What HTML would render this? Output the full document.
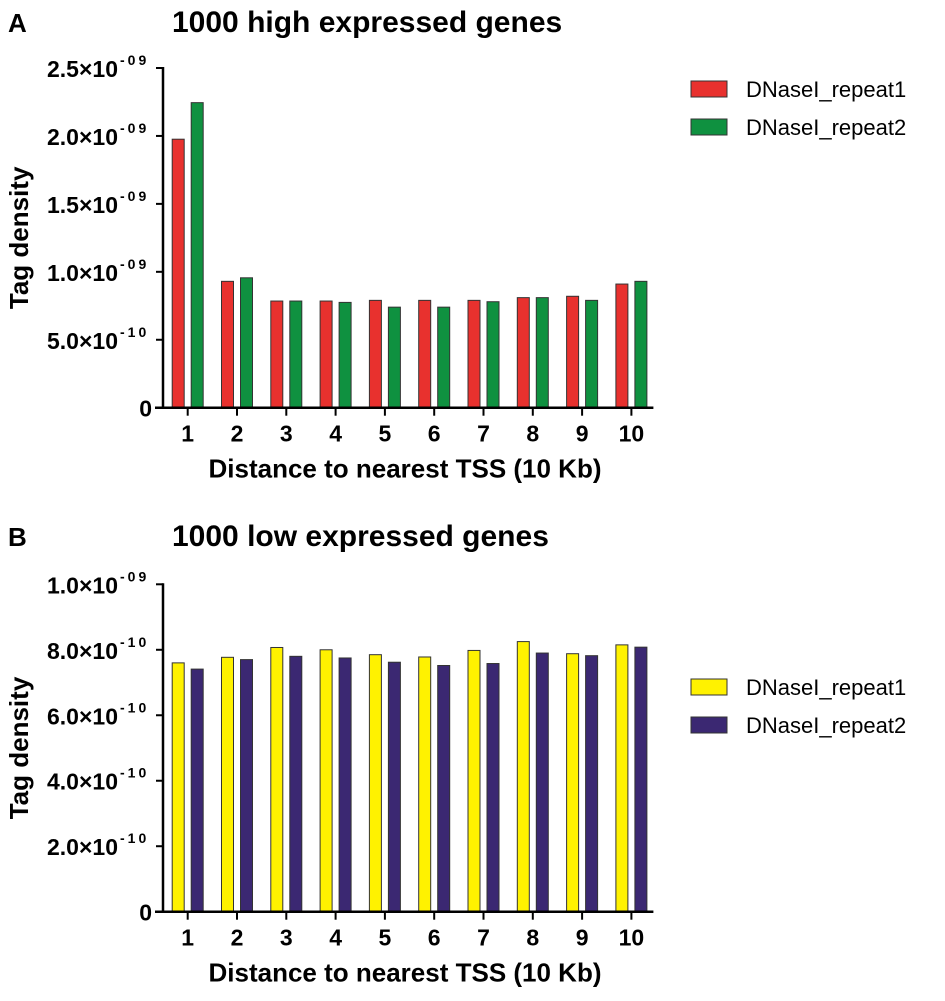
<!DOCTYPE html>
<html><head><meta charset="utf-8"><style>
body{margin:0;background:#fff;}
svg text{font-family:"Liberation Sans",Arial,sans-serif;}
</style></head><body>
<svg id="chart" width="945" height="996" xmlns="http://www.w3.org/2000/svg"></svg>
<script>
const categories = ["1","2","3","4","5","6","7","8","9","10"];
const highRep1 = [1.976,0.93,0.785,0.785,0.79,0.79,0.79,0.81,0.82,0.91];
const highRep2 = [2.245,0.956,0.785,0.775,0.74,0.74,0.78,0.81,0.79,0.93];
const lowRep1 = [0.76,0.777,0.807,0.80,0.785,0.778,0.798,0.825,0.788,0.815];
const lowRep2 = [0.741,0.77,0.78,0.775,0.762,0.752,0.758,0.79,0.782,0.808];
const highTicks = [0,0.5,1.0,1.5,2.0,2.5];
const highTickLabels = ["0","5.0×10|-10","1.0×10|-09","1.5×10|-09","2.0×10|-09","2.5×10|-09"];
const lowTicks = [0,0.2,0.4,0.6,0.8,1.0];
const lowTickLabels = ["0","2.0×10|-10","4.0×10|-10","6.0×10|-10","8.0×10|-10","1.0×10|-09"];

const svg = document.getElementById('chart');
const NS = "http://www.w3.org/2000/svg";
function mk(tag, attrs, parent){const e=document.createElementNS(NS,tag);for(const k in attrs)e.setAttribute(k,attrs[k]);(parent||svg).appendChild(e);return e;}

function panel(o){
  const g = mk('g',{});
  
  
  const x0=163, xFirst=187.7, step=49.3;
  const y = v => o.zero - (v/o.max)*(o.zero-o.top);
  const xc = i => xFirst + i*step;
  let t = mk('text',{x:8,y:o.titleY,'font-size':26,'font-weight':'bold'},g); t.textContent=o.letter;
   
  t = mk('text',{x:172,y:o.titleY,'font-size':30,'font-weight':'bold'},g); t.textContent=o.title;
   
  for(let i=0;i<categories.length;i++){
    const v1=o.s1[i], v2=o.s2[i];
    let b = mk('rect',{x:xc(i)-15.5,y:y(v1),width:12,height:o.zero-y(v1),fill:o.c1,stroke:'#333','stroke-width':1},g);
    
    
    b = mk('rect',{x:xc(i)+3.5,y:y(v2),width:12,height:o.zero-y(v2),fill:o.c2,stroke:'#333','stroke-width':1},g);
    
    
  }
  let a = mk('line',{x1:x0,y1:o.top-1,x2:x0,y2:o.zero,stroke:'#000','stroke-width':2.5},g);
   
  a = mk('line',{x1:x0-8,y1:o.zero,x2:xc(9)+22,y2:o.zero,stroke:'#000','stroke-width':2.5},g);
   
  o.ticks.forEach((tv,j)=>{
    const ty=y(tv);
    mk('line',{x1:x0-7,y1:ty,x2:x0,y2:ty,stroke:'#000','stroke-width':2},g);
    const parts=o.labels[j].split('|');
    const tx = mk('text',{x:x0-11,y:ty+9,'font-size':23,'font-weight':'bold','text-anchor':'end'},g);
    
    
    if(parts.length>1){
      tx.setAttribute('x',118);
      tx.textContent=parts[0];
      const sp=mk('text',{x:120,y:ty-3,'font-size':14,'font-weight':'bold','letter-spacing':3},g);
      sp.textContent=parts[1];
      
      
    } else tx.textContent=parts[0];
  });
  categories.forEach((c,i)=>{
    mk('line',{x1:xc(i),y1:o.zero,x2:xc(i),y2:o.zero+8,stroke:'#000','stroke-width':2},g);
    const tx=mk('text',{x:xc(i),y:o.zero+34,'font-size':23,'font-weight':'bold','text-anchor':'middle'},g);
    tx.textContent=c;
    
    
  });
  t = mk('text',{x:405,y:o.zero+70,'font-size':26,'font-weight':'bold','text-anchor':'middle'},g);
  t.textContent='Distance to nearest TSS (10 Kb)';
   
  const cy=(o.top+o.zero)/2;
  t = mk('text',{x:28,y:cy,'font-size':26,'font-weight':'bold','text-anchor':'middle',transform:`rotate(-90 28 ${cy})`},g);
  t.textContent='Tag density';
   
  [[o.c1,'DNaseI_repeat1'],[o.c2,'DNaseI_repeat2']].forEach((L,k)=>{
    const ly=o.legY+k*38;
    const r=mk('rect',{x:691,y:ly,width:36,height:16,fill:L[0],stroke:'#333','stroke-width':1},g);
    
    
    const lt=mk('text',{x:746,y:ly+16,'font-size':22},g);
    lt.textContent=L[1];
    
    
  });
}
panel({name:'panel-a',letter:'A',title:'1000 high expressed genes',titleY:32,top:68,zero:407.7,max:2.5,ticks:highTicks,labels:highTickLabels,s1:highRep1,s2:highRep2,c1:'#e8312e',c2:'#0f9140',legY:81});
panel({name:'panel-b',letter:'B',title:'1000 low expressed genes',titleY:546,top:584.3,zero:911.7,max:1.0,ticks:lowTicks,labels:lowTickLabels,s1:lowRep1,s2:lowRep2,c1:'#fff200',c2:'#3b2872',legY:679});
</script>
</body></html>
